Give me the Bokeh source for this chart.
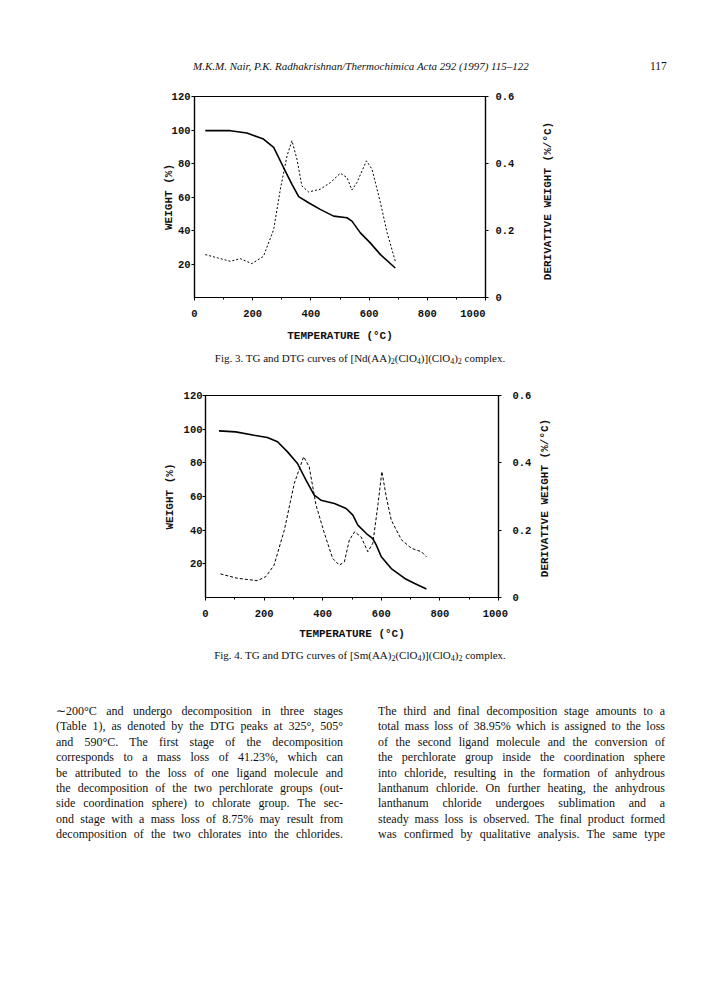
import math
from bokeh.plotting import figure
from bokeh.models import Range1d, LinearAxis, FixedTicker, CustomJSTickFormatter, Div
from bokeh.layouts import column, row
from bokeh.embed import file_html
from bokeh.resources import INLINE

# ---------------- data ----------------
# Fig. 3  [Nd(AA)2(ClO4)](ClO4)2
tg1_temp = [37, 123, 180, 237, 272, 306, 335, 358, 392, 432, 478, 524, 541, 570, 604, 639, 690]
tg1_weight = [99.6, 99.6, 98.2, 94.6, 89.6, 77.6, 67.6, 60.2, 56.6, 52.6, 48.6, 47.6, 45.6, 38.6, 32.6, 25.6, 17.6]
dtg1_temp = [37, 80, 123, 157, 197, 237, 272, 295, 318, 335, 352, 369, 392, 432, 467, 501, 524, 541, 558, 591, 610, 639, 662, 690]
dtg1_deriv = [0.128, 0.118, 0.108, 0.116, 0.101, 0.123, 0.203, 0.323, 0.423, 0.468, 0.413, 0.333, 0.315, 0.323,
              0.343, 0.371, 0.358, 0.321, 0.343, 0.408, 0.383, 0.283, 0.193, 0.108]

# Fig. 4  [Sm(AA)2(ClO4)](ClO4)2
tg2_temp = [46, 103, 166, 211, 246, 280, 314, 343, 371, 394, 440, 480, 503, 520, 549, 571, 583, 600, 634, 680, 714, 754]
tg2_weight = [99.0, 98.4, 96.4, 95.0, 92.5, 86.5, 79.6, 69.7, 60.8, 57.8, 55.8, 52.9, 48.9, 43.0, 38.0, 35.0, 31.1,
              24.2, 17.2, 11.3, 8.3, 5.0]
dtg2_temp = [51, 109, 177, 206, 234, 269, 303, 335, 354, 377, 406, 434, 457, 474, 491, 509, 531, 554, 571, 589, 602,
             617, 634, 669, 703, 737, 754]
dtg2_deriv = [0.070, 0.057, 0.050, 0.062, 0.096, 0.200, 0.339, 0.418, 0.388, 0.275, 0.190, 0.116, 0.096, 0.106,
              0.171, 0.195, 0.180, 0.136, 0.161, 0.279, 0.374, 0.299, 0.230, 0.171, 0.146, 0.136, 0.121]

x_ticks = [0, 200, 400, 600, 800, 1000]
x_minor = [100, 300, 500, 700, 900]
w_ticks = [20, 40, 60, 80, 100, 120]
d_ticks = [0, 0.2, 0.4, 0.6]

x_title = "TEMPERATURE (\u00b0C)"
yl_title = "WEIGHT (%)"
yr_title = "DERIVATIVE WEIGHT (%/\u00b0C)"

header = "M.K.M. Nair, P.K. Radhakrishnan/Thermochimica Acta 292 (1997) 115\u2013122"
page_no = "117"
cap3 = "Fig. 3. TG and DTG curves of [Nd(AA)<sub>2</sub>(ClO<sub>4</sub>)](ClO<sub>4</sub>)<sub>2</sub> complex."
cap4 = "Fig. 4. TG and DTG curves of [Sm(AA)<sub>2</sub>(ClO<sub>4</sub>)](ClO<sub>4</sub>)<sub>2</sub> complex."

left_lines = [
    "\u223c200\u00b0C and undergo decomposition in three stages",
    "(Table 1), as denoted by the DTG peaks at 325\u00b0, 505\u00b0",
    "and 590\u00b0C. The first stage of the decomposition",
    "corresponds to a mass loss of 41.23%, which can",
    "be attributed to the loss of one ligand molecule and",
    "the decomposition of the two perchlorate groups (out-",
    "side coordination sphere) to chlorate group. The sec-",
    "ond stage with a mass loss of 8.75% may result from",
    "decomposition of the two chlorates into the chlorides.",
]
right_lines = [
    "The third and final decomposition stage amounts to a",
    "total mass loss of 38.95% which is assigned to the loss",
    "of the second ligand molecule and the conversion of",
    "the perchlorate group inside the coordination sphere",
    "into chloride, resulting in the formation of anhydrous",
    "lanthanum chloride. On further heating, the anhydrous",
    "lanthanum chloride undergoes sublimation and a",
    "steady mass loss is observed. The final product formed",
    "was confirmed by qualitative analysis. The same type",
]

MONO = "Liberation Mono"
SERIF = "Liberation Serif"
W = 704
RB = 40  # right border of each chart figure (holds the right tick labels)


def make_chart(tg_t, tg_w, dtg_t, dtg_d, left, fw, top, fh, bottom, dash,
               l_std, l_lab_std, r_std, b_lab_std, last_pad):
    p = figure(width=left + fw + RB, height=top + fh + bottom, x_range=Range1d(0, 1000), y_range=Range1d(0, 120),
               output_backend="svg", toolbar_location=None,
               min_border_left=left, min_border_right=RB,
               min_border_top=top, min_border_bottom=bottom)
    p.extra_y_ranges = {"dtg": Range1d(0, 0.6)}
    p.xgrid.visible = False
    p.ygrid.visible = False
    p.outline_line_color = "black"
    p.outline_line_width = 1.2
    p.background_fill_color = "white"
    p.border_fill_color = "white"

    xa = p.xaxis[0]
    xa.ticker = FixedTicker(ticks=x_ticks, minor_ticks=x_minor)
    # in the print the last label (1000) sits to the left of its tick
    xa.formatter = CustomJSTickFormatter(
        args=dict(pad=last_pad),
        code="return tick >= 999 ? tick.toString() + '\\u00a0'.repeat(pad) : tick.toString();")
    xa.axis_label = x_title
    ya = p.yaxis[0]
    ya.ticker = FixedTicker(ticks=w_ticks)
    ya.axis_label = yl_title
    ra = LinearAxis(y_range_name="dtg", ticker=FixedTicker(ticks=d_ticks),
                    formatter=CustomJSTickFormatter(code="return tick < 1e-9 ? '0' : tick.toFixed(1);"))
    p.add_layout(ra, "right")

    for ax in (xa, ya, ra):
        ax.axis_line_color = "black"
        ax.axis_line_width = 1.2
        ax.major_tick_line_color = "black"
        ax.major_tick_in = 0
        ax.major_tick_out = 3
        ax.minor_tick_in = 0
        ax.minor_tick_out = 2
        ax.major_label_text_font = MONO
        ax.major_label_text_font_style = "bold"
        ax.major_label_text_font_size = "10.5px"
        ax.major_label_text_color = "#111111"
        ax.axis_label_text_font = MONO
        ax.axis_label_text_font_style = "bold"
        ax.axis_label_text_font_size = "11px"
        ax.axis_label_text_color = "#111111"
    ya.minor_tick_out = 0
    ra.minor_tick_out = 0
    xa.major_label_standoff = 7
    xa.axis_label_standoff = b_lab_std
    ya.major_label_standoff = l_std
    ya.axis_label_standoff = l_lab_std
    ra.major_label_standoff = r_std

    p.line(tg_t, tg_w, line_color="black", line_width=1.6)
    p.line(dtg_t, dtg_d, y_range_name="dtg", line_color="black", line_width=1.0, line_dash=dash)
    return p


def right_title(fig, cx, cy):
    w = W - fig.width
    h = fig.height
    return Div(width=w, height=h, margin=0, text=(
        f'<div style="position:relative;width:{w}px;height:{h}px">'
        f'<div style="position:absolute;left:{cx}px;top:{cy}px;transform:translate(-50%,-50%) rotate(-90deg);'
        f'white-space:nowrap;font-family:\'{MONO}\';font-weight:bold;font-size:11px;color:#111;line-height:12px">'
        f'{yr_title}</div></div>'))


fig3 = make_chart(tg1_temp, tg1_weight, dtg1_temp, dtg1_deriv,
                  left=186, fw=291, top=8, fh=201, bottom=52, dash="2 2",
                  l_std=1, l_lab_std=-6, r_std=7, b_lab_std=7, last_pad=4)
fig4 = make_chart(tg2_temp, tg2_weight, dtg2_temp, dtg2_deriv,
                  left=197, fw=293, top=28, fh=202, bottom=48, dash="3 2",
                  l_std=0, l_lab_std=5, r_std=11, b_lab_std=5, last_pad=1)
rt3 = right_title(fig3, 540 - fig3.width, 113)
rt4 = right_title(fig4, 537 - fig4.width, 131)

head_div = Div(width=W, height=80, margin=0, text=(
    f'<div style="position:relative;width:{W}px;height:80px;font-family:\'{SERIF}\';color:#111">'
    f'<div style="position:absolute;left:185px;top:50px;font-style:italic;font-size:11px;line-height:16px;white-space:nowrap">{header}</div>'
    f'<div style="position:absolute;left:642px;top:50px;font-size:11.5px;line-height:16px">{page_no}</div>'
    '</div>'))

SUB = '<span style="font-size:8px;vertical-align:-2px;line-height:0">'


def cap_div(txt, h):
    txt = txt.replace("<sub>", SUB).replace("</sub>", "</span>")
    return Div(width=W, height=h, margin=0, text=(
        f'<div style="width:{W}px;height:{h}px;text-align:center;font-family:\'{SERIF}\';font-size:11px;'
        f'line-height:{h}px;color:#111;white-space:nowrap">{txt}</div>'))


cap3_div = cap_div(cap3, 18)
cap4_div = cap_div(cap4, 20)


def col_html(lines, left):
    rows = "".join(f'<div style="text-align:justify;text-align-last:justify;height:15.4px">{ln}</div>' for ln in lines)
    return f'<div style="position:absolute;left:{left}px;top:39px;width:287px">{rows}</div>'


text_div = Div(width=W, height=200, margin=0, text=(
    f'<div style="position:relative;width:{W}px;height:200px;font-family:\'{SERIF}\';font-size:12px;'
    f'line-height:15.4px;color:#111">' + col_html(left_lines, 48) + col_html(right_lines, 370) + '</div>'))

# the page template has no body margin, so offset the whole page content by 8px
layout = column(head_div, row(fig3, rt3, spacing=0), cap3_div, row(fig4, rt4, spacing=0), cap4_div, text_div,
                spacing=0, margin=(8, 0, 0, 8))

open("out.html", "w").write(file_html(layout, INLINE, title="TG and DTG curves"))
